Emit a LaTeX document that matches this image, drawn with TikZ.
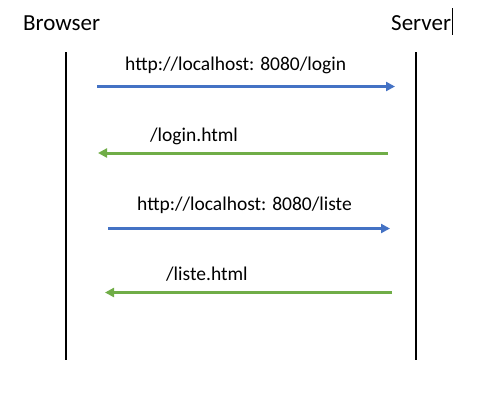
\documentclass[tikz,border=0pt]{standalone}
\usepackage{fontspec}
\setmainfont{Carlito}
\usetikzlibrary{arrows.meta}
\definecolor{officeblue}{HTML}{4472C4}
\definecolor{officegreen}{HTML}{70AD47}
\tikzset{
  lifeline/.style={line width=2pt, black},
  req/.style={line width=3pt, officeblue, -{Triangle[length=9pt,width=9pt]}},
  resp/.style={line width=3pt, officegreen, -{Triangle[length=9pt,width=9pt]}},
  head/.style={font=\fontsize{23}{27}\selectfont, inner sep=0pt, anchor=base west},
  msg/.style={font=\fontsize{19.5}{23}\selectfont, inner sep=0pt, anchor=base west},
}
\begin{document}
\begin{tikzpicture}[x=1pt,y=-1pt]
\useasboundingbox (0,0) rectangle (488,400);
\node[head] (browser) at (23,30) {Browser};
\node[head] (server) at (391,30) {Server};
\draw[line width=1pt] (452,8) -- (452,35);
% lifelines
\coordinate (bt) at (66,52); \coordinate (bb) at (66,360);
\coordinate (st) at (416,52); \coordinate (sb) at (416,360);
\draw[lifeline] (bt) -- (bb);
\draw[lifeline] (st) -- (sb);
% messages
\coordinate (a1s) at (97,86.5); \coordinate (a1e) at (395,86.5);
\coordinate (a2s) at (388,153); \coordinate (a2e) at (98,153);
\coordinate (a3s) at (108,228.5); \coordinate (a3e) at (390,228.5);
\coordinate (a4s) at (392,292.5); \coordinate (a4e) at (105,292.5);
\draw[req] (a1s) -- (a1e);
\draw[resp] (a2s) -- (a2e);
\draw[req] (a3s) -- (a3e);
\draw[resp] (a4s) -- (a4e);
\node[msg] (l1) at (125,70.7) {http://localhost: 8080/login};
\node[msg] (l2) at (150,141.7) {/login.html};
\node[msg] (l3) at (137,210.7) {http://localhost: 8080/liste};
\node[msg] (l4) at (166,280) {/liste.html};
\end{tikzpicture}
\end{document}
